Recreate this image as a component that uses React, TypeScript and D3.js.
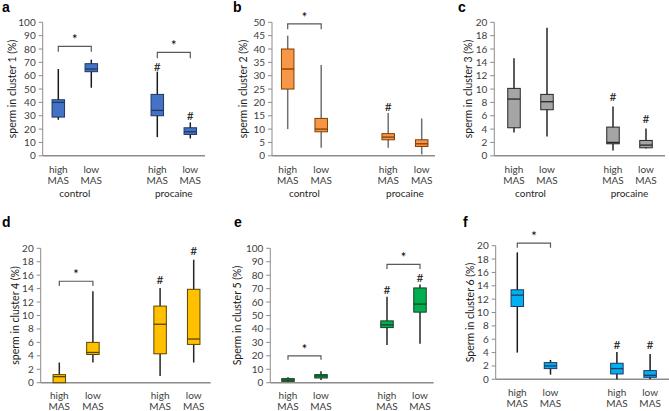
import React from "react";
import * as d3 from "d3";

// Data: [min, q1, median, q3, max] per box
const categories = ["high MAS", "low MAS", "high MAS", "low MAS"];
const groups = ["control", "procaine"];
const cluster1 = [[27, 29, 40, 42, 65], [51, 63, 65, 69, 72], [14, 30, 34, 46, 63], [13, 16, 18, 21, 25]];
const cluster2 = [[10, 25, 32.5, 40, 45], [3, 9, 10, 14, 34], [3, 6, 7, 8.3, 16], [0.5, 3.5, 4.5, 6, 14]];
const cluster3 = [[3.5, 4.2, 8.5, 10.1, 14.6], [2.9, 6.9, 8.1, 9.2, 19.2], [0.8, 1.8, 2.0, 4.3, 7.4], [1.1, 1.2, 1.6, 2.3, 4.1]];
const cluster4 = [[0, 0, 0.9, 1.2, 3], [3, 4.2, 4.5, 6, 13.6], [1, 4.3, 8.7, 11.4, 14.1], [3, 5.7, 6.5, 13.9, 18.3]];
const cluster5 = [[0.5, 1, 2, 3, 4], [2, 3.5, 5, 6, 8.5], [28, 41, 43, 46, 64], [29, 52.5, 58.5, 70.5, 73]];
const cluster6 = [[4, 10.9, 12.6, 13.4, 19], [0.7, 1.6, 2.0, 2.5, 2.9], [0, 0.8, 1.6, 2.4, 4.1], [0, 0.3, 0.6, 1.3, 3.8]];
// significance marks: "#" markers (box index, value); brackets ([i, j], bar value, tick value)
const hash1 = [[2, 67], [3, 30]];
const hash2 = [[2, 18.4]];
const hash3 = [[2, 8.9], [3, 5.6]];
const hash4 = [[2, 15.3], [3, 19.6]];
const hash5 = [[2, 69], [3, 77.7]];
const hash6 = [[2, 5.1], [3, 5.2]];
const brackets1 = [[0, 1, 82, 78], [2, 3, 77.5, 73]];
const brackets2 = [[0, 1, 49.4, 47.4]];
const brackets3: number[][] = [];
const brackets4 = [[0, 1, 15.1, 14.4]];
const brackets5 = [[0, 1, 20, 17], [2, 3, 88, 84.6]];
const brackets6 = [[0, 1, 20.4, 19.7]];
const slots = [0, 1, 3, 4];

const FONT = "Lato, 'Open Sans', 'Liberation Sans', sans-serif";

type PanelProps = {
  label: string;
  labelX: number;
  labelY: number;
  yTitle: string;
  titleX: number;
  axisX: number;
  axisEnd: number;
  c0: number;
  step: number;
  top: number;
  bottom: number;
  yMax: number;
  tickStep: number;
  data: number[][];
  hashes: number[][];
  brackets: number[][];
  fill: string;
  stroke: string;
  whisker: string;
  showGroups: boolean;
  catDy: number;
};

function Panel(p: PanelProps) {
  const y = d3.scaleLinear().domain([0, p.yMax]).range([p.bottom, p.top]);
  const x = d3.scaleLinear().domain([0, 1]).range([p.c0, p.c0 + p.step]);
  const ticks = d3.range(0, p.yMax + p.tickStep / 2, p.tickStep);
  const bw = 12.5;
  const axisColor = "#8c8c8c";
  return (
    <g>
      <text x={p.labelX} y={p.labelY} fontFamily="'Liberation Sans', Arial, sans-serif" fontWeight="bold" fontSize={14} fill="#000">{p.label}</text>
      <text
        transform={`translate(${p.titleX},${(p.top + p.bottom) / 2}) rotate(-90)`}
        textAnchor="middle"
        dy="0.35em"
        fontFamily={FONT}
        fontSize={10.5}
        fill="#1a1a1a"
      >{p.yTitle}</text>
      {ticks.map((t) => (
        <g key={t}>
          <line x1={p.axisX - 4} x2={p.axisX} y1={y(t)} y2={y(t)} stroke={axisColor} strokeWidth={1} />
          <text x={p.axisX - 7} y={y(t)} dy="0.35em" textAnchor="end" fontFamily={FONT} fontSize={10} fill="#404040">{t}</text>
        </g>
      ))}
      <line x1={p.axisX} x2={p.axisX} y1={p.top} y2={p.bottom} stroke={axisColor} strokeWidth={1} />
      <line x1={p.axisX} x2={p.axisEnd} y1={p.bottom} y2={p.bottom} stroke={axisColor} strokeWidth={1.5} />
      {p.data.map((d, i) => {
        const cx = x(slots[i]);
        return (
          <g key={i}>
            <line x1={cx} x2={cx} y1={y(d[0])} y2={y(d[4])} stroke={p.whisker} strokeWidth={1.5} />
            <rect x={cx - bw / 2} y={y(d[3])} width={bw} height={Math.max(1, y(d[1]) - y(d[3]))} fill={p.fill} stroke={p.stroke} strokeWidth={1} />
            <line x1={cx - bw / 2} x2={cx + bw / 2} y1={y(d[2])} y2={y(d[2])} stroke={p.stroke} strokeWidth={1.3} />
            <text x={cx} y={p.bottom + p.catDy} textAnchor="middle" fontFamily={FONT} fontSize={10} fill="#404040">{categories[i].split(" ")[0]}</text>
            <text x={cx} y={p.bottom + p.catDy + 11.5} textAnchor="middle" fontFamily={FONT} fontSize={10} fill="#404040">{categories[i].split(" ")[1]}</text>
          </g>
        );
      })}
      {p.showGroups && groups.map((g, gi) => (
        <text key={g} x={(x(slots[gi * 2]) + x(slots[gi * 2 + 1])) / 2} y={p.bottom + 41.5} textAnchor="middle" fontFamily={FONT} fontSize={10} fill="#262626">{g}</text>
      ))}
      {p.hashes.map(([i, v], k) => (
        <text key={k} x={x(slots[i])} y={y(v)} dy="0.35em" textAnchor="middle" fontFamily={FONT} fontSize={12} fill="#1a1a1a">#</text>
      ))}
      {p.brackets.map(([i, j, v, tv], k) => {
        const x1 = x(slots[i]);
        const x2 = x(slots[j]);
        return (
          <g key={k}>
            <path d={`M${x1},${y(tv)}V${y(v)}H${x2}V${y(tv)}`} fill="none" stroke="#595959" strokeWidth={1.2} />
            <text x={(x1 + x2) / 2} y={y(v) - 2} textAnchor="middle" fontFamily={FONT} fontSize={13} fill="#000">*</text>
          </g>
        );
      })}
    </g>
  );
}

export default function App() {
  return (
    <svg width={669} height={411} style={{ position: "absolute", left: 0, top: 0, background: "#fff" }}>
      <Panel label="a" labelX={2} labelY={12} yTitle="sperm in cluster 1 (%)" titleX={12} axisX={42.7} axisEnd={205} c0={58.3} step={33}
        top={22.3} bottom={155.8} yMax={100} tickStep={10} data={cluster1} hashes={hash1} brackets={brackets1}
        fill="#4472C4" stroke="#1F3864" whisker="#1a1a1a" showGroups={true} catDy={16.7} />
      <Panel label="b" labelX={233} labelY={12} yTitle="sperm in cluster 2 (%)" titleX={243.7} axisX={272} axisEnd={435} c0={287.7} step={33.5}
        top={22.3} bottom={155.8} yMax={50} tickStep={5} data={cluster2} hashes={hash2} brackets={brackets2}
        fill="#F79646" stroke="#7F3F00" whisker="#707070" showGroups={true} catDy={16.7} />
      <Panel label="c" labelX={458} labelY={12} yTitle="sperm in cluster 3 (%)" titleX={468.3} axisX={494.3} axisEnd={665} c0={514} step={33}
        top={22.3} bottom={155.8} yMax={20} tickStep={2} data={cluster3} hashes={hash3} brackets={brackets3}
        fill="#A5A5A5" stroke="#262626" whisker="#262626" showGroups={true} catDy={16.7} />
      <Panel label="d" labelX={2} labelY={227} yTitle="sperm in cluster 4 (%)" titleX={15} axisX={40.7} axisEnd={210.7} c0={59.3} step={33.6}
        top={248.3} bottom={382.7} yMax={20} tickStep={2} data={cluster4} hashes={hash4} brackets={brackets4}
        fill="#FFC000" stroke="#5a4400" whisker="#262626" showGroups={false} catDy={16} />
      <Panel label="e" labelX={234} labelY={227} yTitle="Sperm in cluster 5 (%)" titleX={237} axisX={270.3} axisEnd={433.7} c0={288} step={33}
        top={248.3} bottom={382.7} yMax={100} tickStep={10} data={cluster5} hashes={hash5} brackets={brackets5}
        fill="#00B050" stroke="#1a3d26" whisker="#262626" showGroups={false} catDy={16} />
      <Panel label="f" labelX={463} labelY={227} yTitle="Sperm in cluster 6 (%)" titleX={470} axisX={495.7} axisEnd={669} c0={517.3} step={33.2}
        top={245.7} bottom={379.3} yMax={20} tickStep={2} data={cluster6} hashes={hash6} brackets={brackets6}
        fill="#00B0F0" stroke="#1F3864" whisker="#1a1a1a" showGroups={false} catDy={16.5} />
    </svg>
  );
}
